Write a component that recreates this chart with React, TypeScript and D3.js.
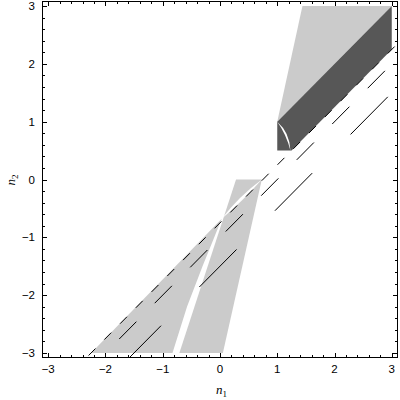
import React from 'react';
import * as d3 from 'd3';

// axis ticks
const majorTicks = [-3, -2, -1, 0, 1, 2, 3];
const tickLabels = ['−3', '−2', '−1', '0', '1', '2', '3'];

// shaded regions, corners as [n1, n2]
const darkBand: [number, number][] = [[1, 0.5], [1, 1], [3, 3], [3, 2.25], [1.25, 0.5]];
const upperWedge: [number, number][] = [[1, 1], [1.44, 3], [3, 3]];
const lowerStrip: [number, number][] = [[-0.71, -3], [0.28, 0], [0.73, 0], [0.05, -3]];
const lowerWedge: [number, number][] = [
  [-2.25, -3], [0.03, -0.68], [-0.1, -1.0], [-0.305, -1.5], [-0.576, -2.2], [-0.83, -3],
];

// thin white seams: start, end and the two bulge controls
const seamStarts: [number, number][] = [[0.03, -0.68], [1, 1]];
const seamEnds: [number, number][] = [[0.73, 0], [1.23, 0.5]];
const seamBulgeA: [number, number][] = [[0.33, -0.29], [1.22, 0.81]];
const seamBulgeB: [number, number][] = [[0.4, -0.37], [1.16, 0.78]];

// dashed lines n2 = n1 + c
const lineIntercepts = [-0.75, -1, -1.5];

const lineStyle = [
  { start: -3.12, dash: [0.12, 0.155] },
  { start: -3, dash: [0.3, 0.32] },
  { start: -3, dash: [0.65, 0.67] },
];

const W = 400;
const H = 400;
const LIGHT = '#cbcbcb';
const DARK = '#575757';
const FONT = '"Liberation Sans", Arial, sans-serif';

export default function App() {
  const x = d3.scaleLinear().domain([-3.1, 3.1]).range([42.5, 397.5]);
  const y = d3.scaleLinear().domain([-3.08, 3.08]).range([357.5, 1.5]);
  const [x0, x1] = x.range();
  const [y0, y1] = y.range();

  const poly = d3.line<[number, number]>().x(d => x(d[0])).y(d => y(d[1]));
  const area = (pts: [number, number][]) => poly(pts) + 'Z';

  const seamPath = (i: number) => {
    const p = (d: [number, number]) => `${x(d[0])},${y(d[1])}`;
    return `M${p(seamStarts[i])}Q${p(seamBulgeA[i])} ${p(seamEnds[i])}Q${p(seamBulgeB[i])} ${p(seamStarts[i])}Z`;
  };

  const pxPerUnit = Math.hypot(x(1) - x(0), y(0) - y(1));
  const minorTicks = d3.range(-3, 3.01, 0.2).map(v => +v.toFixed(1));

  return (
    <svg width={W} height={H} style={{ position: 'absolute', left: 0, top: 0, background: '#fff' }}>
      <defs>
        <clipPath id="plot-clip">
          <rect x={x0} y={y1} width={x1 - x0} height={y0 - y1} />
        </clipPath>
      </defs>

      <g>
        <path d={area(upperWedge)} fill={LIGHT} />
        <path d={area(lowerStrip)} fill={LIGHT} />
        <path d={area(lowerWedge)} fill={LIGHT} />
        <path d={area(darkBand)} fill={DARK} />
        {seamStarts.map((_, i) => (
          <path key={i} d={seamPath(i)} fill="#fff" />
        ))}
      </g>

      <g clipPath="url(#plot-clip)">
        {lineIntercepts.map((c, i) => {
          const s = lineStyle[i];
          return (
            <line
              key={c}
              x1={x(s.start)} y1={y(s.start + c)}
              x2={x(3.5)} y2={y(3.5 + c)}
              stroke="#000"
              strokeWidth={1}
              strokeDasharray={s.dash.map(v => v * pxPerUnit).join(' ')}
            />
          );
        })}
      </g>

      <rect x={x0} y={y1} width={x1 - x0} height={y0 - y1} fill="none" stroke="#000" strokeWidth={1} />

      <g stroke="#000" strokeWidth={1} shapeRendering="crispEdges">
        {minorTicks.map(v => {
          const major = Math.abs(v - Math.round(v)) < 1e-6;
          const len = major ? 4.5 : 2.5;
          const xv = Math.round(x(v)) + 0.5;
          const yv = Math.round(y(v)) + 0.5;
          return (
            <g key={v}>
              <line x1={xv} x2={xv} y1={y0} y2={y0 - len} />
              <line x1={xv} x2={xv} y1={y1} y2={y1 + len} />
              <line x1={x0} x2={x0 + len} y1={yv} y2={yv} />
              <line x1={x1} x2={x1 - len} y1={yv} y2={yv} />
            </g>
          );
        })}
      </g>

      <g fontFamily={FONT} fontSize={11.5} fill="#000">
        {majorTicks.map((v, i) => (
          <text key={'x' + v} x={x(v)} y={373} textAnchor="middle">{tickLabels[i]}</text>
        ))}
        {majorTicks.map((v, i) => (
          <text key={'y' + v} x={35} y={y(v)} dy="0.35em" textAnchor="end">{tickLabels[i]}</text>
        ))}
      </g>

      <text x={x(0) - 4} y={394} fontFamily='"Liberation Serif", serif' fontSize={13} fill="#000">
        <tspan fontStyle="italic">n</tspan>
        <tspan fontSize={9} dy={3}>1</tspan>
      </text>
      <text
        transform={`translate(15, ${y(0) + 6}) rotate(-90)`}
        fontFamily='"Liberation Serif", serif'
        fontSize={13}
        fill="#000"
      >
        <tspan fontStyle="italic">n</tspan>
        <tspan fontSize={9} dy={3}>2</tspan>
      </text>
    </svg>
  );
}
